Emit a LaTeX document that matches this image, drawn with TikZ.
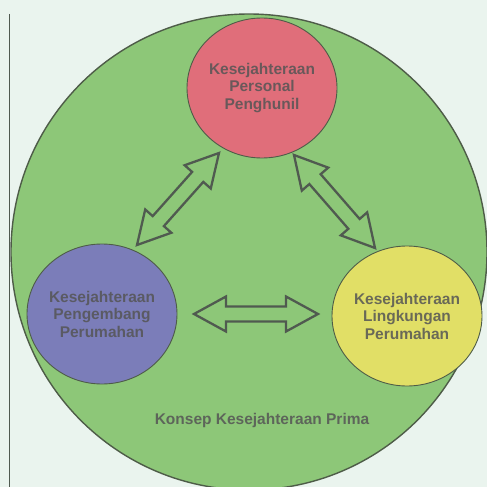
\documentclass[tikz,border=0pt]{standalone}
\usepackage{fontspec}
\setmainfont{Liberation Sans}
\usetikzlibrary{calc,shapes.geometric}
\definecolor{bgc}{HTML}{EAF4EE}
\definecolor{bigg}{HTML}{8DC778}
\definecolor{redc}{HTML}{E06E7A}
\definecolor{bluec}{HTML}{7B7DB9}
\definecolor{yelc}{HTML}{E1DF66}
\definecolor{edgec}{HTML}{4E5C48}
\definecolor{txtc}{HTML}{555555}
\definecolor{arrc}{HTML}{505A50}
\tikzset{
  bubble/.style={ellipse, draw=edgec, line width=0.9pt, minimum width=150pt, minimum height=140pt, inner sep=0pt,
    align=center, text=txtc, text opacity=0.85, font=\bfseries\fontsize{15.5}{17.5}\selectfont},
  blk/.style={draw=arrc, line width=2.3pt, line join=miter},
  lbl/.style={text=txtc, text opacity=0.85, font=\bfseries\fontsize{15.5}{17.5}\selectfont}
}
\newcommand\blkarrow[2]{%
  \coordinate (h1) at ($(#1)!32pt!(#2)$);
  \coordinate (h2) at ($(#2)!32pt!(#1)$);
  \draw[blk] (#1) -- ($(h1)!17.5pt!90:(#2)$) -- ($(h1)!7.5pt!90:(#2)$) -- ($(h2)!7.5pt!-90:(#1)$) -- ($(h2)!17.5pt!-90:(#1)$)
    -- (#2) -- ($(h2)!17.5pt!90:(#1)$) -- ($(h2)!7.5pt!90:(#1)$) -- ($(h1)!7.5pt!-90:(#2)$) -- ($(h1)!17.5pt!-90:(#2)$) -- cycle;
}
\begin{document}
\begin{tikzpicture}[x=1pt,y=-1pt]
\fill[bgc] (0,0) rectangle (487,487);
\useasboundingbox (0,0) rectangle (487,487);
\draw[arrc, line width=1pt] (9,14) -- (9,487);
\node[circle, draw=edgec, line width=1.4pt, fill=bigg, minimum size=476pt, inner sep=0pt] (big) at (249,252) {};
\node[bubble, fill=redc] (red) at (262,88) {Kesejahteraan\\Personal\\Penghunil};
\node[bubble, fill=bluec] (blue) at (102,314) {Kesejahteraan\\Pengembang\\Perumahan};
\node[bubble, fill=yelc] (yel) at (407,316) {Kesejahteraan\\Lingkungan\\Perumahan};
\node[lbl] (title) at (262,420) {Konsep Kesejahteraan Prima};
\coordinate (a1) at (137,245);
\coordinate (a2) at (219,153);
\coordinate (b1) at (294,155);
\coordinate (b2) at (375,248);
\coordinate (c1) at (194,314);
\coordinate (c2) at (318,314);
\blkarrow{a1}{a2}
\blkarrow{b1}{b2}
\blkarrow{c1}{c2}
\end{tikzpicture}
\end{document}
